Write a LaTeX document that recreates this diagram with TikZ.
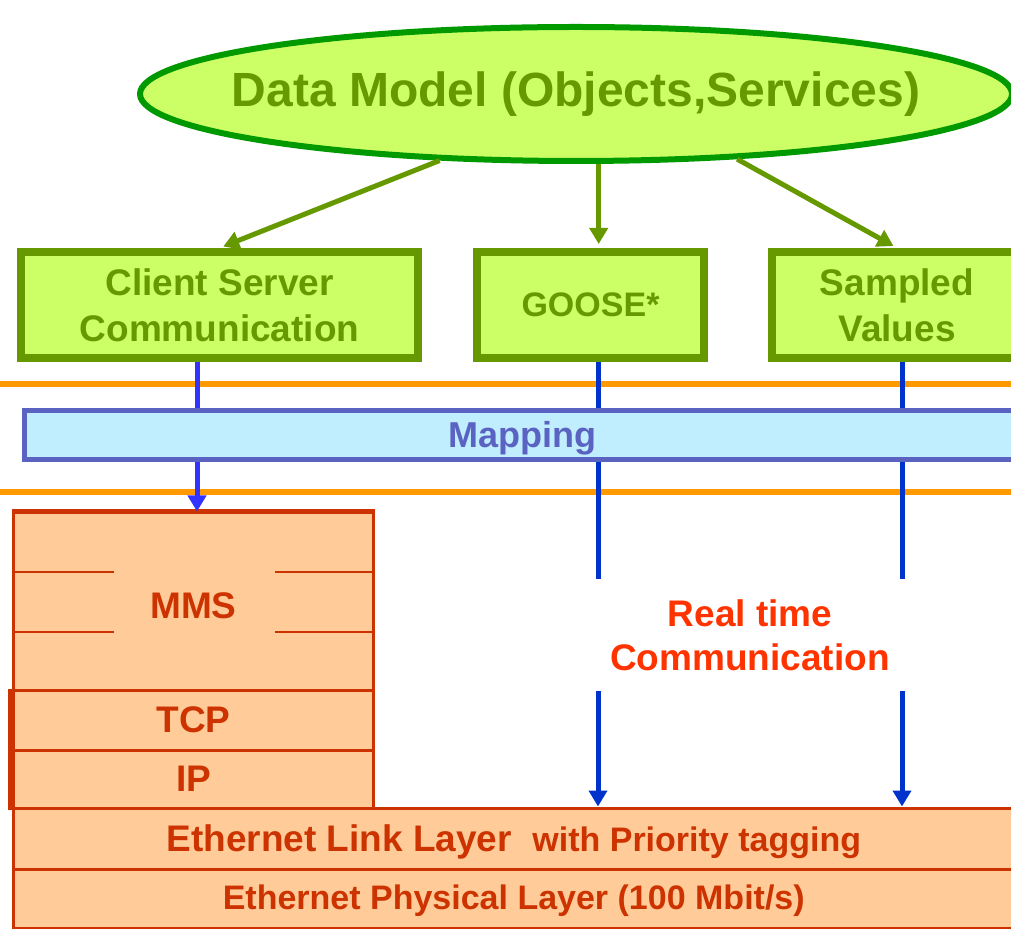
\documentclass[tikz,border=0pt]{standalone}
\usepackage{fontspec}
\setmainfont{Liberation Sans}
\usetikzlibrary{shapes.geometric,arrows.meta}

\definecolor{lime}{HTML}{CCFF66}
\definecolor{leaf}{HTML}{669900}
\definecolor{grass}{HTML}{009900}
\definecolor{amber}{HTML}{FF9900}
\definecolor{sky}{HTML}{C0EEFF}
\definecolor{slate}{HTML}{5B63C2}
\definecolor{royal}{HTML}{0033CC}
\definecolor{bright}{HTML}{3333FF}
\definecolor{peach}{HTML}{FFCC99}
\definecolor{rust}{HTML}{CC3300}
\definecolor{signal}{HTML}{FF3300}

% drop a label a little inside its box
\newcommand{\sinklabel}[2]{\raisebox{-#1}[\height][\depth]{#2}}

\tikzset{
  svcbox/.style={draw=leaf, fill=lime, text=leaf, line width=4pt, minimum height=53pt,
    inner sep=0pt, align=center, font=\fontsize{18.5}{23}\selectfont\bfseries},
  layerbox/.style={draw=rust, fill=peach, text=rust, line width=1.5pt, inner sep=0pt,
    font=\fontsize{18.5}{22}\selectfont\bfseries},
  tip/.style={-{Triangle[width=9pt,length=8pt]}},
  modelarrow/.style={draw=leaf, line width=2.5pt, tip, shorten >=2pt},
  flow/.style={draw=royal, line width=2.5pt},
  boundary/.style={draw=amber, line width=2.75pt},
}

\begin{document}
\begin{tikzpicture}[x=0.5pt, y=-0.5pt]
  \useasboundingbox (0,0) rectangle (1011,929);
  \clip (0,0) rectangle (1011,929);

  % data model and the three services
  \node[ellipse, draw=grass, fill=lime, line width=3pt, minimum width=436pt, minimum height=67pt,
    label={[text=leaf, font=\fontsize{24}{28}\selectfont\bfseries]center:Data Model (Objects,Services)}]
    (dm) at (576,94) {};
  \node[svcbox, minimum width=198.5pt] (cs) at (219.5,305) {Client Server\\Communication};
  \node[svcbox, minimum width=113.5pt, font=\fontsize{17}{20}\selectfont\bfseries] (goose) at (590.5,305) {GOOSE*};
  \node[svcbox, minimum width=125pt] (sv) at (897,305) {Sampled\\Values};

  % protocol stack
  \node[layerbox, minimum width=180pt, minimum height=88.5pt] (mms) at (193.5,601.5) {\sinklabel{2.25pt}{MMS}};
  \node[layerbox, minimum width=180pt, minimum height=30pt] (tcp) at (193.5,720) {TCP};
  \node[layerbox, minimum width=180pt, minimum height=29pt] (ip) at (193.5,779) {IP};
  \node[layerbox, minimum width=500.25pt, minimum height=30.5pt] (link) at (513.75,838.5)
    {\sinklabel{1.5pt}{Ethernet Link Layer\ \ {\fontsize{17}{20}\selectfont with Priority tagging}}};
  \node[layerbox, minimum width=500.25pt, minimum height=29.5pt, font=\fontsize{17}{20}\selectfont\bfseries]
    (phys) at (513.75,898.5) {\sinklabel{1pt}{Ethernet Physical Layer (100 Mbit/s)}};
  \foreach \y in {572,632}
    \draw[rust, line width=1pt] (13.5,\y) -- (114,\y) (275,\y) -- (373.5,\y);
  \draw[rust, line width=2.5pt] (mms.north west) -- (mms.north east);
  \draw[rust, line width=2pt] ([xshift=-1.25pt]tcp.north west) -- ([xshift=-1.25pt]ip.south west);

  \node[text=signal, font=\fontsize{18.5}{22}\selectfont\bfseries, align=center, minimum height=56pt,
    inner sep=0pt] (rt) at (750,635) {Real time\\Communication};

  % sublayer boundaries
  \draw[boundary] (0,384) -- (1011,384);
  \draw[boundary] (0,492) -- (1011,492);

  % model to services
  \draw[modelarrow] (dm.206) -- (cs.north);
  \draw[modelarrow] (dm.288) -- (dm.288 |- goose.north);
  \draw[modelarrow] (dm.338) -- (sv.north);

  % services down to the stack
  \coordinate (cx) at (197,0);
  \coordinate (gx) at (598,0);
  \coordinate (sx) at (902,0);
  \draw[flow, draw=bright, tip] (cs.south -| cx) -- (cx |- mms.north);
  \foreach \c/\s in {gx/goose, sx/sv} {
    \draw[flow] (\s.south -| \c) -- (\c |- rt.north);
    \draw[flow, tip] (\c |- rt.south) -- (\c |- link.north);
  }

  % mapping lies over the flows
  \node[draw=slate, fill=sky, text=slate, line width=2.5pt, minimum width=497.5pt, minimum height=24.5pt,
    inner sep=0pt, font=\fontsize{18}{20}\selectfont\bfseries] (map) at (522,435) {\sinklabel{1.5pt}{Mapping}};
\end{tikzpicture}
\end{document}
